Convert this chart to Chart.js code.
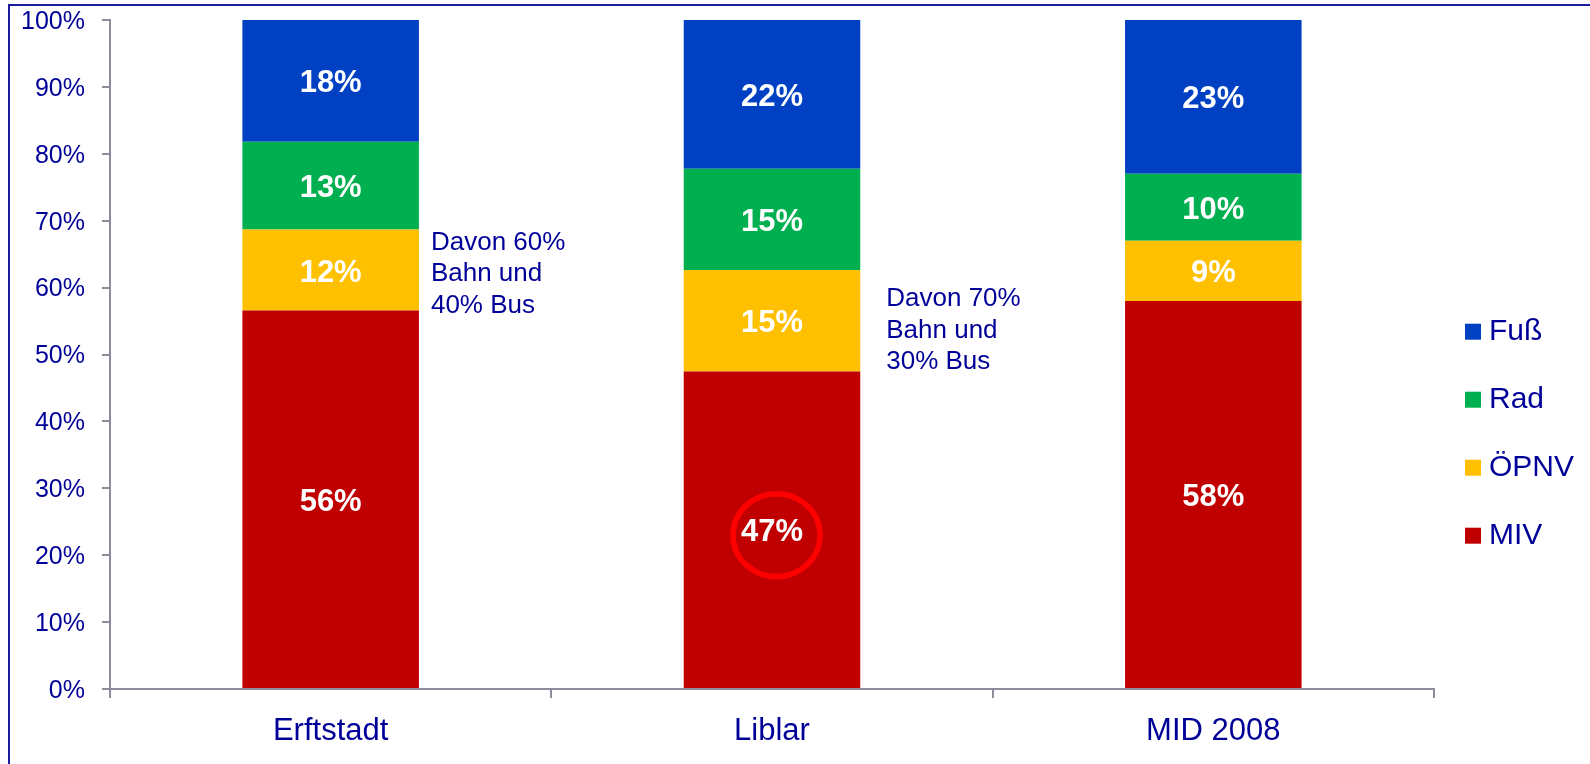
<!DOCTYPE html>
<html>
<head>
<meta charset="utf-8">
<script src="https://cdn.jsdelivr.net/npm/chart.js@4/dist/chart.umd.min.js"></script>
<style>
  html, body { margin: 0; padding: 0; background: #fff; overflow: hidden; }
  #frame {
    position: absolute; left: 8px; top: 4px; width: 2000px; height: 2000px;
    border-top: 2px solid #1c1ca0; border-left: 2px solid #1c1ca0;
  }
  #wrap { position: absolute; left: 0; top: 0; width: 1590px; height: 764px; }
</style>
</head>
<body>
<div id="frame"></div>
<div id="wrap"><canvas id="chart"></canvas></div>
<script>
// values (shares in %, drawn as 100% stacked bars)
const categories = ['Erftstadt', 'Liblar', 'MID 2008'];
const mivValues = [56, 47, 58];
const oepnvValues = [12, 15, 9];
const radValues = [13, 15, 10];
const fussValues = [18, 22, 23];

const seriesNames = ['MIV', 'ÖPNV', 'Rad', 'Fuß'];
const seriesColors = ['#c00000', '#ffc000', '#00b050', '#0041c4'];

// notes next to the ÖPNV segments
const notes = [
  { category: 'Erftstadt', lines: ['Davon 60%', 'Bahn und', '40% Bus'], dx: 12, dy: 4 },
  { category: 'Liblar', lines: ['Davon 70%', 'Bahn und', '30% Bus'], dx: 26, dy: 10 }
];
const highlight = { category: 'Liblar', series: 'MIV' };

const textBlue = '#000099';
const axisGrey = '#8c8c9c';
const fontFamily = '"Liberation Sans", Arial, sans-serif';

Chart.defaults.font.family = fontFamily;
Chart.defaults.color = textBlue;

const allValues = [mivValues, oepnvValues, radValues, fussValues];
const totals = categories.map((c, j) => allValues.reduce((s, arr) => s + arr[j], 0));

const datasets = allValues.map(function (vals, i) {
  return {
    label: seriesNames[i],
    data: vals.map((v, j) => v / totals[j] * 100),
    rawValues: vals,
    backgroundColor: seriesColors[i],
    borderWidth: 0,
    categoryPercentage: 0.4,
    barPercentage: 1
  };
});

const labelPlugin = {
  id: 'segmentLabels',
  afterDatasetsDraw(chart) {
    const ctx = chart.ctx;
    ctx.save();

    // white value labels in the middle of each segment
    ctx.font = 'bold 31px ' + fontFamily;
    ctx.fillStyle = '#ffffff';
    ctx.textAlign = 'center';
    ctx.textBaseline = 'middle';
    chart.data.datasets.forEach(function (ds, i) {
      chart.getDatasetMeta(i).data.forEach(function (bar, j) {
        const p = bar.getProps(['x', 'y', 'base'], true);
        ctx.fillText(ds.rawValues[j] + '%', p.x, (p.y + p.base) / 2 + 3);
      });
    });

    // side notes about the ÖPNV share
    const oIdx = seriesNames.indexOf('ÖPNV');
    ctx.font = '26px ' + fontFamily;
    ctx.fillStyle = textBlue;
    ctx.textAlign = 'left';
    notes.forEach(function (n) {
      const j = categories.indexOf(n.category);
      const p = chart.getDatasetMeta(oIdx).data[j].getProps(['x', 'y', 'base', 'width'], true);
      const left = p.x + p.width / 2 + n.dx;
      const mid = (p.y + p.base) / 2 + n.dy;
      n.lines.forEach(function (line, k) {
        ctx.fillText(line, left, mid + (k - 1) * 31.5);
      });
    });

    // red circle around the highlighted value
    const hj = categories.indexOf(highlight.category);
    const hi = seriesNames.indexOf(highlight.series);
    const hp = chart.getDatasetMeta(hi).data[hj].getProps(['x', 'y', 'base'], true);
    ctx.beginPath();
    ctx.ellipse(hp.x + 4.5, (hp.y + hp.base) / 2 + 5.5, 43.5, 41.5, 0, 0, Math.PI * 2);
    ctx.lineWidth = 5.5;
    ctx.strokeStyle = '#ff0000';
    ctx.stroke();

    ctx.restore();
  }
};

new Chart(document.getElementById('chart'), {
  type: 'bar',
  data: { labels: categories, datasets: datasets },
  plugins: [labelPlugin],
  options: {
    responsive: true,
    maintainAspectRatio: false,
    animation: false,
    layout: { padding: { top: 20, left: 0, right: 6, bottom: 0 } },
    plugins: {
      tooltip: { enabled: false },
      legend: {
        position: 'right',
        reverse: true,
        title: { display: true, text: '', font: { size: 12 }, padding: { top: 69, bottom: 0 } },
        labels: {
          usePointStyle: true,
          pointStyle: 'rect',
          boxWidth: 2,
          boxHeight: 16,
          padding: 38,
          color: textBlue,
          font: { size: 30 }
        }
      }
    },
    scales: {
      x: {
        stacked: true,
        afterFit: function (scale) { scale.height = 75; },
        grid: { drawOnChartArea: false, drawTicks: true, tickLength: 9, color: axisGrey, lineWidth: 2 },
        border: { display: true, color: axisGrey, width: 2 },
        ticks: { color: textBlue, font: { size: 31 }, padding: 15 }
      },
      y: {
        stacked: true,
        min: 0,
        max: 100,
        afterFit: function (scale) {
          scale.width = 110;
          scale.paddingTop = 0;
          scale.paddingBottom = 0;
        },
        grid: { drawOnChartArea: false, drawTicks: true, tickLength: 8, color: axisGrey, lineWidth: 2 },
        border: { display: true, color: axisGrey, width: 2 },
        ticks: {
          stepSize: 10,
          color: textBlue,
          font: { size: 25 },
          padding: 17,
          labelOffset: 2,
          callback: function (v) { return v + '%'; }
        }
      }
    }
  }
});
</script>
</body>
</html>
